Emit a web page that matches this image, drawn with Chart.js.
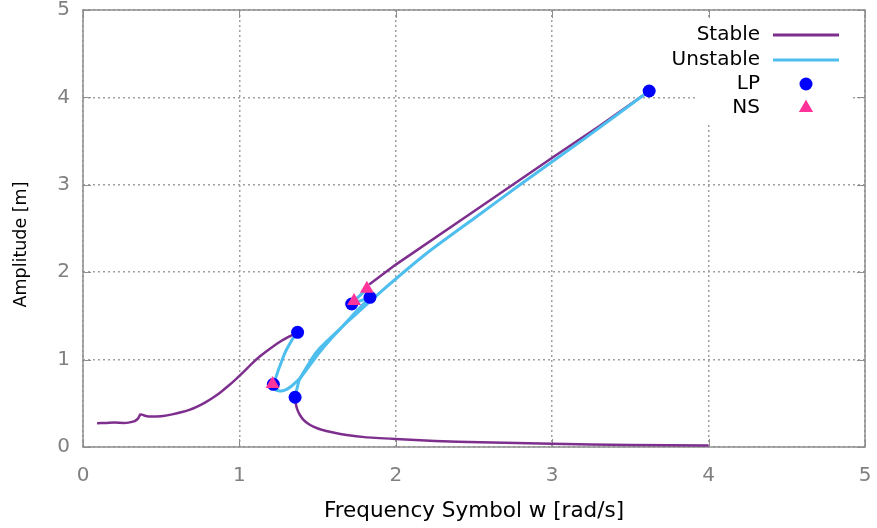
<!DOCTYPE html>
<html>
<head>
<meta charset="utf-8">
<title>Amplitude vs frequency</title>
<script src="https://cdn.jsdelivr.net/npm/chart.js@4.4.1/dist/chart.umd.min.js"></script>
<style>
  html, body { margin: 0; padding: 0; background: #fff; }
</style>
</head>
<body>
<canvas id="resposta" width="877" height="528"></canvas>
<script>
// stable branch coming from low frequency, up to the first fold
const stableLeftW = [0.09, 0.15, 0.20, 0.26, 0.29, 0.33, 0.354, 0.366, 0.378, 0.395, 0.42, 0.47, 0.513, 0.57, 0.62, 0.68, 0.73, 0.78, 0.83, 0.88, 0.93, 0.98, 1.03, 1.08, 1.13, 1.18, 1.26, 1.32, 1.372];
const stableLeftA = [0.272, 0.275, 0.279, 0.276, 0.279, 0.297, 0.33, 0.372, 0.37, 0.357, 0.348, 0.35, 0.355, 0.373, 0.394, 0.425, 0.462, 0.508, 0.563, 0.627, 0.70, 0.78, 0.865, 0.955, 1.035, 1.105, 1.205, 1.265, 1.312];

// stable branch on the high frequency side (small amplitude)
const stableRightW = [1.356, 1.36, 1.37, 1.387, 1.41, 1.44, 1.473, 1.52, 1.6, 1.686, 1.8, 2.0, 2.25, 2.54, 3.0, 3.5, 4.0];
const stableRightA = [0.569, 0.50, 0.43, 0.366, 0.31, 0.265, 0.232, 0.20, 0.165, 0.137, 0.113, 0.092, 0.07, 0.054, 0.036, 0.024, 0.016];

// stable upper branch, from the NS point to the top fold
const stableTopW = [1.83, 1.9, 2.0, 2.5, 3.0, 3.3, 3.62];
const stableTopA = [1.86, 1.955, 2.087, 2.697, 3.31, 3.67, 4.073];

// unstable branch from the top fold down to the lower fold
const unstableMainW = [3.62, 3.2, 2.794, 2.5, 2.2, 1.9, 1.69, 1.58, 1.504, 1.47, 1.419, 1.383, 1.366, 1.356];
const unstableMainA = [4.073, 3.52, 3.0, 2.615, 2.22, 1.77, 1.43, 1.245, 1.11, 1.03, 0.881, 0.767, 0.652, 0.569];

// unstable loop leaving the first fold
const unstableLoopW = [1.372, 1.345, 1.324, 1.30, 1.281, 1.265, 1.249, 1.235, 1.221, 1.222, 1.232, 1.25, 1.27, 1.302, 1.334, 1.387, 1.451, 1.515, 1.579, 1.643, 1.70, 1.76, 1.835];
const unstableLoopA = [1.312, 1.25, 1.187, 1.11, 1.033, 0.955, 0.881, 0.805, 0.729, 0.685, 0.655, 0.643, 0.641, 0.66, 0.698, 0.786, 0.938, 1.09, 1.224, 1.347, 1.46, 1.575, 1.713];

// short unstable piece between the two upper folds and the NS point
const unstableCuspW = [1.835, 1.718, 1.733, 1.815];
const unstableCuspA = [1.713, 1.636, 1.67, 1.81];

// limit points (folds) and Neimark-Sacker points
const lpW = [3.62, 1.372, 1.217, 1.356, 1.718, 1.835];
const lpA = [4.073, 1.312, 0.717, 0.569, 1.636, 1.713];
const nsW = [1.212, 1.733, 1.815];
const nsA = [0.72, 1.67, 1.81];

const axisTicks = [0, 1, 2, 3, 4, 5];
const legendLabels = ['Stable', 'Unstable', 'LP', 'NS'];

const corEstavel = '#7e2f8e';
const corInstavel = '#4dbeee';
const corLP = '#0000ff';
const corNS = '#ff3399';

const pares = (ws, as) => ws.map((w, i) => ({ x: w, y: as[i] }));

function ramo(w, a, cor, largura, ordem, tensao) {
  return {
    data: pares(w, a),
    showLine: true,
    borderColor: cor,
    borderWidth: largura,
    pointRadius: 0,
    tension: tensao,
    fill: false,
    order: ordem
  };
}

// plot frame with short inward ticks on every side
const moldura = {
  id: 'moldura',
  beforeDatasetsDraw(chart) {
    const { ctx, chartArea: a, scales: { x, y } } = chart;
    ctx.save();
    ctx.strokeStyle = '#8f8f8f';
    ctx.lineWidth = 1.5;
    ctx.setLineDash([]);
    ctx.strokeRect(a.left, a.top, a.right - a.left, a.bottom - a.top);
    ctx.lineWidth = 1;
    ctx.beginPath();
    axisTicks.forEach(v => {
      const px = Math.round(x.getPixelForValue(v)) + 0.5;
      ctx.moveTo(px, a.bottom); ctx.lineTo(px, a.bottom - 8);
      ctx.moveTo(px, a.top); ctx.lineTo(px, a.top + 8);
      const py = Math.round(y.getPixelForValue(v)) + 0.5;
      ctx.moveTo(a.left, py); ctx.lineTo(a.left + 8, py);
      ctx.moveTo(a.right, py); ctx.lineTo(a.right - 8, py);
    });
    ctx.stroke();
    ctx.restore();
  },
  afterDraw(chart) {
    const { ctx, chartArea: a } = chart;
    ctx.save();
    // y axis title
    ctx.translate(a.left - 62, (a.top + a.bottom) / 2 + 16);
    ctx.rotate(-Math.PI / 2);
    ctx.font = '17.5px "DejaVu Sans"';
    ctx.fillStyle = '#000';
    ctx.textAlign = 'center';
    ctx.textBaseline = 'middle';
    ctx.fillText('Amplitude [m]', 0, 0);
    ctx.restore();

    // key, opaque box in the upper right corner
    ctx.save();
    ctx.fillStyle = '#fff';
    ctx.fillRect(a.right - 170, a.top + 8, 156, 105);
    const linhas = [a.top + 25, a.top + 50, a.top + 74, a.top + 98];
    ctx.font = '20px "DejaVu Sans"';
    ctx.fillStyle = '#000';
    ctx.textAlign = 'right';
    ctx.textBaseline = 'middle';
    legendLabels.forEach((t, i) => ctx.fillText(t, a.right - 105, linhas[i]));
    ctx.lineWidth = 3;
    ctx.strokeStyle = corEstavel;
    ctx.beginPath(); ctx.moveTo(a.right - 92, linhas[0]); ctx.lineTo(a.right - 26, linhas[0]); ctx.stroke();
    ctx.strokeStyle = corInstavel;
    ctx.beginPath(); ctx.moveTo(a.right - 92, linhas[1]); ctx.lineTo(a.right - 26, linhas[1]); ctx.stroke();
    ctx.fillStyle = corLP;
    ctx.beginPath(); ctx.arc(a.right - 59, linhas[2], 6.5, 0, Math.PI * 2); ctx.fill();
    ctx.fillStyle = corNS;
    Chart.helpers.drawPoint(ctx, { pointStyle: 'triangle', radius: 8, borderWidth: 0 }, a.right - 59, linhas[3]);
    ctx.fill();
    ctx.restore();
  }
};

Chart.defaults.font.family = '"DejaVu Sans", sans-serif';
Chart.defaults.font.size = 20;

new Chart(document.getElementById('resposta'), {
  type: 'scatter',
  data: {
    datasets: [
      ramo(stableLeftW, stableLeftA, corEstavel, 2.5, 4, 0.2),
      ramo(stableRightW, stableRightA, corEstavel, 2.5, 4, 0.2),
      ramo(stableTopW, stableTopA, corEstavel, 2.5, 4, 0),
      ramo(unstableMainW, unstableMainA, corInstavel, 3, 3, 0.2),
      ramo(unstableLoopW, unstableLoopA, corInstavel, 3, 3, 0.2),
      ramo(unstableCuspW, unstableCuspA, corInstavel, 3, 3, 0),
      {
        data: pares(lpW, lpA),
        pointStyle: 'circle',
        pointRadius: 6.5,
        pointBackgroundColor: corLP,
        pointBorderWidth: 0,
        order: 1
      },
      {
        data: pares(nsW, nsA),
        pointStyle: 'triangle',
        pointRadius: 8,
        pointBackgroundColor: corNS,
        pointBorderWidth: 0,
        order: 0
      }
    ]
  },
  options: {
    responsive: false,
    animation: false,
    devicePixelRatio: 1,
    layout: { padding: { top: 10, right: 12, left: 0, bottom: 0 } },
    plugins: { legend: { display: false }, tooltip: { enabled: false } },
    scales: {
      x: {
        type: 'linear', min: 0, max: 5,
        ticks: { stepSize: 1, color: '#808080', padding: 17 },
        grid: { color: '#a0a0a0', lineWidth: 1.5, drawTicks: false },
        border: { display: false, dash: [2, 3] },
        title: { display: true, text: 'Frequency Symbol w [rad/s]', color: '#000', font: { size: 21.5 }, padding: { top: 0, bottom: 4 } },
        afterFit(s) { s.height = 81; s.paddingLeft = 0; s.paddingRight = 0; }
      },
      y: {
        type: 'linear', min: 0, max: 5,
        ticks: { stepSize: 1, color: '#808080', padding: 13 },
        grid: { color: '#a0a0a0', lineWidth: 1.5, drawTicks: false },
        border: { display: false, dash: [2, 3] },
        afterFit(s) { s.width = 83; s.paddingTop = 0; s.paddingBottom = 0; }
      }
    }
  },
  plugins: [moldura]
});
</script>
</body>
</html>
